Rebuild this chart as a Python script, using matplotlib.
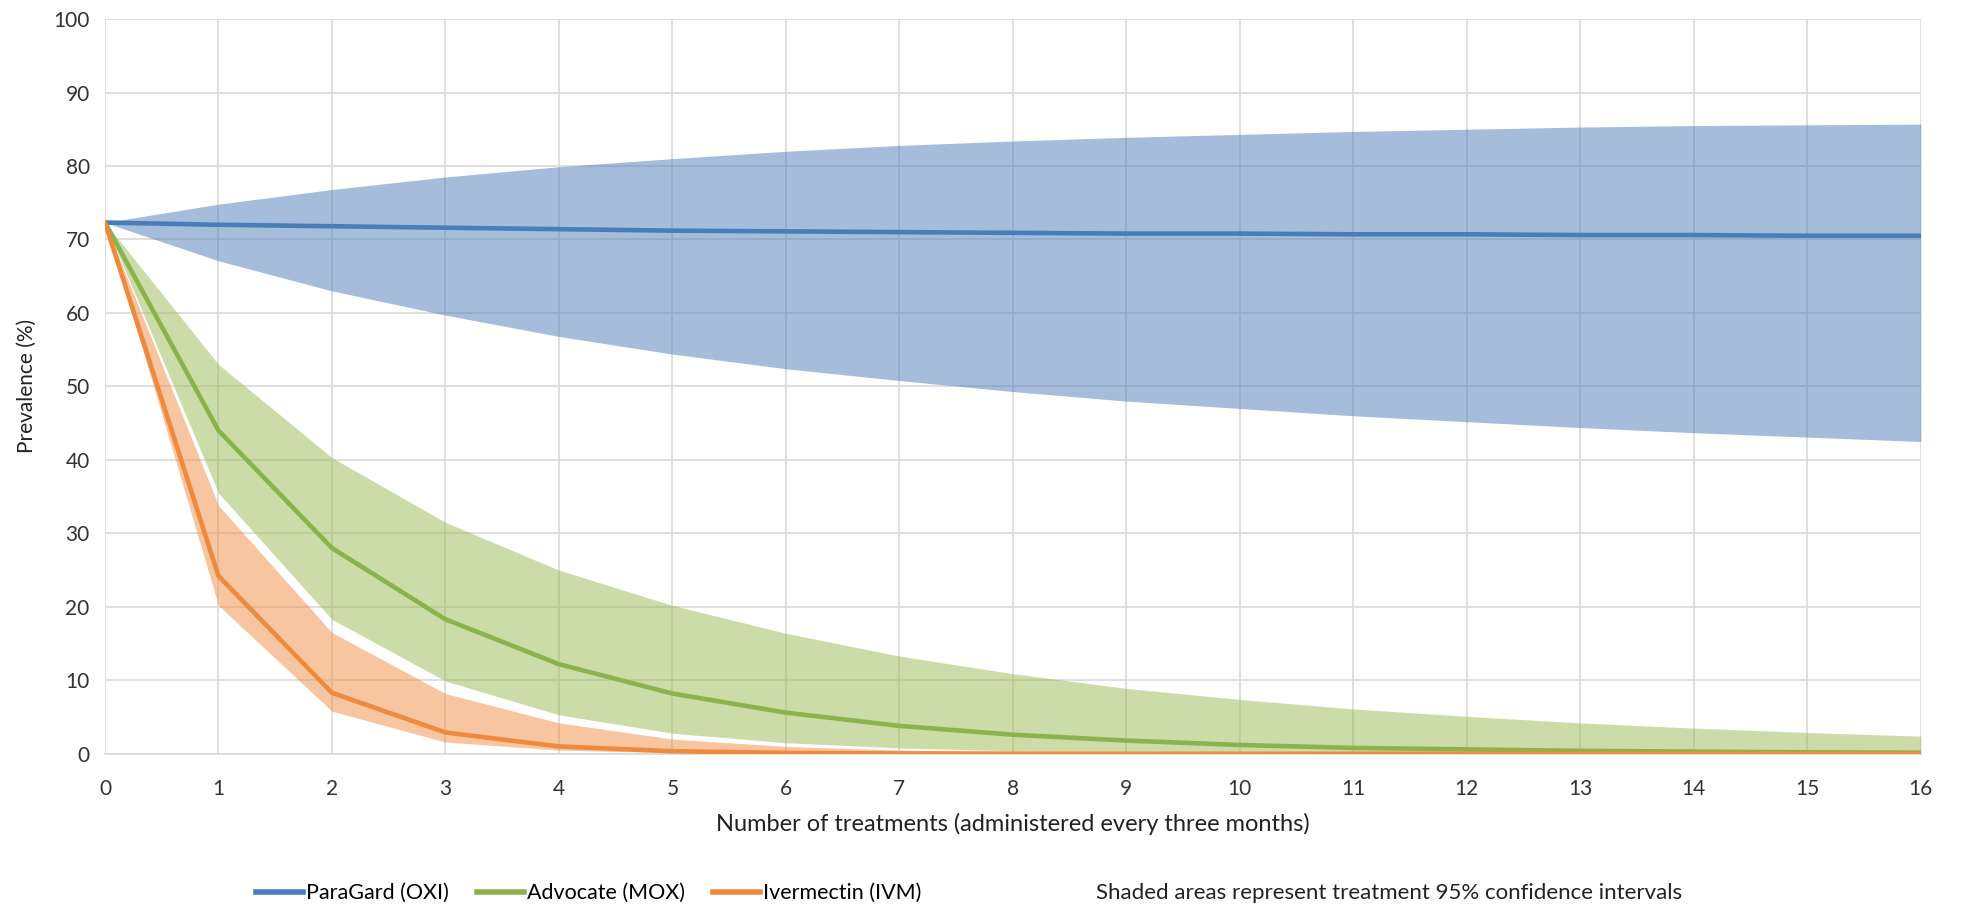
import matplotlib
matplotlib.use("Agg")
import matplotlib.pyplot as plt
from matplotlib.lines import Line2D

treatments = list(range(17))

oxi_mean = [72.3, 72.0, 71.8, 71.6, 71.4, 71.2, 71.1, 71.0, 70.9, 70.8, 70.8, 70.7, 70.7, 70.6, 70.6, 70.5, 70.5]
oxi_upper = [72.3, 74.8, 76.8, 78.5, 79.9, 81.0, 82.0, 82.8, 83.4, 83.9, 84.3, 84.7, 85.0, 85.3, 85.5, 85.6, 85.7]
oxi_lower = [72.3, 67.1, 63.0, 59.7, 56.8, 54.4, 52.4, 50.8, 49.3, 48.0, 47.0, 46.0, 45.2, 44.4, 43.7, 43.1, 42.5]

mox_mean = [72.3, 44.0, 28.0, 18.3, 12.2, 8.2, 5.6, 3.8, 2.6, 1.8, 1.2, 0.8, 0.6, 0.4, 0.3, 0.2, 0.15]
mox_upper = [72.3, 53.0, 40.3, 31.5, 25.0, 20.2, 16.4, 13.3, 10.9, 8.9, 7.4, 6.1, 5.1, 4.2, 3.5, 2.9, 2.4]
mox_lower = [72.3, 35.5, 18.3, 9.9, 5.3, 2.8, 1.5, 0.8, 0.4, 0.2, 0.1, 0.05, 0.0, 0.0, 0.0, 0.0, 0.0]

ivm_mean = [72.3, 24.2, 8.3, 2.9, 1.0, 0.35, 0.12, 0.05, 0.02, 0.0, 0.0, 0.0, 0.0, 0.0, 0.0, 0.0, 0.0]
ivm_upper = [72.3, 33.8, 16.5, 8.2, 4.2, 2.0, 1.0, 0.5, 0.25, 0.1, 0.05, 0.0, 0.0, 0.0, 0.0, 0.0, 0.0]
ivm_lower = [72.3, 20.2, 5.8, 1.6, 0.5, 0.15, 0.05, 0.0, 0.0, 0.0, 0.0, 0.0, 0.0, 0.0, 0.0, 0.0, 0.0]

labels = ["ParaGard (OXI)", "Advocate (MOX)", "Ivermectin (IVM)"]
note = "Shaded areas represent treatment 95% confidence intervals"
xlabel = "Number of treatments (administered every three months)"
ylabel = "Prevalence (%)"

line_colors = ["#4A7CBA", "#8BB34D", "#EE8A3D"]
fill_colors = ["#4D7BB7", "#99BB55", "#F18D41"]

plt.rcParams['font.family'] = ['Lato', 'DejaVu Sans']

fig = plt.figure(figsize=(19.62, 9.06), dpi=100)
ax = fig.add_axes([0.0535, 0.168, 0.9255, 0.811])

ax.set_xlim(0, 16)
ax.set_ylim(0, 100)
ax.set_xticks(range(0, 17))
ax.set_yticks(range(0, 101, 10))
ax.grid(True, color="#D9D9D9", linewidth=1.2)
ax.set_axisbelow(True)
for s in ["top", "right", "left"]:
    ax.spines[s].set_visible(False)
ax.spines["bottom"].set_color("#D9D9D9")
ax.spines["bottom"].set_linewidth(1.2)
ax.tick_params(length=0, labelsize=15, colors="#333333")
ax.tick_params(axis="x", pad=18)
ax.tick_params(axis="y", pad=11)

series = [(oxi_mean, oxi_lower, oxi_upper), (mox_mean, mox_lower, mox_upper), (ivm_mean, ivm_lower, ivm_upper)]
for (m, lo, hi), fc in zip(series, fill_colors):
    ax.fill_between(treatments, lo, hi, color=fc, alpha=0.5, linewidth=0, zorder=2)
for (m, lo, hi), lc, lab in zip(series, line_colors, labels):
    ax.plot(treatments, m, color=lc, linewidth=3.3, zorder=3, label=lab, solid_joinstyle='round')

ax.set_xlabel(xlabel, fontsize=17, color="#222222", labelpad=10)
ax.set_ylabel(ylabel, fontsize=15, color="#222222", labelpad=12)

leg_handles = [Line2D([0], [0], color=c, linewidth=4) for c in line_colors]
fig.legend(leg_handles, labels, loc="center", bbox_to_anchor=(0.3, 0.0143), ncol=3,
           frameon=False, fontsize=15.5, handlelength=2.2, handletextpad=0.12, columnspacing=1.3)
fig.text(0.5587, 0.0143, note, fontsize=16, va="center", ha="left", color="#222222")

fig.savefig("out.png", dpi=100)
